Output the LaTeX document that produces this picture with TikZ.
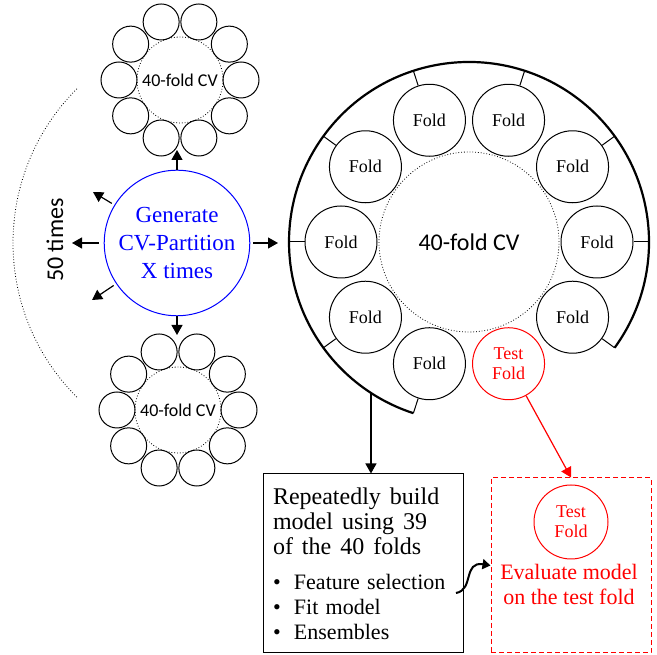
\documentclass[tikz,border=0pt]{standalone}
\usepackage{fontspec}
\setmainfont{Liberation Serif}
\newfontfamily\calibrifont{Carlito}
\usepackage{tikz}
\usetikzlibrary{arrows.meta, calc, positioning}
\tikzstyle{fold} = [circle, draw=black, line width=1pt, minimum size=72pt,
 inner sep=0pt, align=center, font=\fontsize{18}{20}\selectfont]
\tikzstyle{testfold} = [fold, draw=red, text=red]
\tikzstyle{smallfold} = [circle, draw=black, line width=1pt, minimum size=36pt, inner sep=0pt]
\tikzstyle{cvcore} = [circle, draw=black, dotted, line width=0.8pt, inner sep=0pt]
\tikzstyle{arrow} = [line width=1.2pt, -{Triangle[width=11pt,length=10pt]}]

\begin{document}
\begin{tikzpicture}[x=1pt, y=1pt]
\useasboundingbox (0,0) rectangle (657,655);
% partitions
\node(gen) [circle, draw=blue, line width=1pt, minimum size=140pt, text=blue,
 align=center, font=\fontsize{23}{28}\selectfont] at (177,412) {Generate\\CV-Partition\\X times};
\node(topcv) [cvcore, minimum size=86pt, font=\calibrifont\fontsize{18}{20}\selectfont] at (180,575) {40-fold CV};
\node(botcv) [cvcore, minimum size=86pt, font=\calibrifont\fontsize{18}{20}\selectfont] at (178,245) {40-fold CV};
\foreach \a in {0,36,...,324} {
  \path (topcv) ++(\a:61) node[smallfold] (top\a) {};
  \path (botcv) ++(\a:61) node[smallfold] (bot\a) {};
}
\coordinate (toup) at (177,505);
\coordinate (todown) at (177,320);
\coordinate (toright) at (278,412);
\coordinate (toleft) at (72,412);
\coordinate (toupleft) at (93,463);
\coordinate (todownleft) at (92,355);
\draw[arrow] (gen) -- (toup);
\draw[arrow] (gen) -- (todown);
\draw[arrow, shorten <=3pt] (gen) -- (toright);
\draw[arrow, shorten <=5pt] (gen) -- (toleft);
\draw[arrow, shorten <=3pt] (gen) -- (toupleft);
\draw[arrow, shorten <=3pt] (gen) -- (todownleft);
\draw[dotted, line width=0.8pt] ([xshift=54pt]gen.center) ++(135:218) arc[start angle=135, end angle=225, radius=218];
\node(times) [rotate=90, font=\calibrifont\fontsize{24}{28}\selectfont] at (55,415) {50 times};
% big wheel
\node(cv) [cvcore, minimum size=180pt, font=\calibrifont\fontsize{24}{28}\selectfont] at (469,413) {40-fold CV};
\foreach \a in {0,36,72,108,144,180,216,252,324} {
  \path (cv) ++(\a:128) node[fold] (fold\a) {Fold};
  \draw[line width=1pt] (fold\a.\a) -- ($(cv)+(\a:180)$);
}
\path (cv) ++(288:128) node[testfold] (testfold) {Test\\Fold};
\draw[line width=2.2pt] ($(cv)+(-36:180)$) arc[start angle=-36, end angle=252, radius=180];
\coordinate (arcout) at ($(cv)+(237:180)$);
% training and testing
\node(build) [draw=black, line width=1pt, minimum width=200pt, minimum height=179pt,
 text width=180pt, inner xsep=10pt, align=left] at (363,91.5) {%
 \fontsize{24}{25}\selectfont\spaceskip=0.375em Repeatedly build\\model using 39\\of the 40 folds\par
 \vspace{10pt}
 \fontsize{22}{25}\selectfont\spaceskip=0.33em \makebox[21pt][l]{\textbullet}Feature selection\par
 \makebox[21pt][l]{\textbullet}Fit model\par
 \makebox[21pt][l]{\textbullet}Ensembles\par};
\node(evalbox) [draw=red, dash pattern=on 5pt off 3pt, line width=1pt, minimum width=160pt,
 minimum height=175pt] at (571,89.5) {};
\node(evaltest) [testfold, minimum size=74pt] at (571,133) {Test\\Fold};
\node(evaltext) [text=red, align=center, font=\fontsize{22}{25}\selectfont] at (569,71) {Evaluate model\\on the test fold};
\draw[arrow] (arcout) -- (arcout |- build.north);
\draw[arrow, red] (testfold) -- (evalbox.north);
\coordinate (wigglestart) at (456,62);
\draw[line width=2pt, -{Triangle[width=10pt,length=8pt]}] (wigglestart) .. controls (474,65) and (463,94) .. (evalbox.west);
\end{tikzpicture}
\end{document}
